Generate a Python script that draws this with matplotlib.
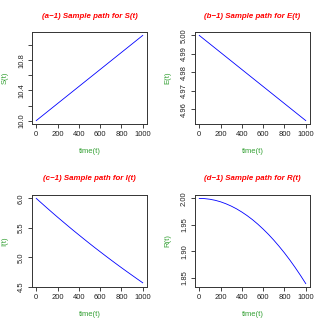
import matplotlib
matplotlib.use("Agg")
import matplotlib.pyplot as plt

plt.rcParams['font.family'] = ['Liberation Sans', 'DejaVu Sans']

# ---- data ----
time = [0, 50, 100, 150, 200, 250, 300, 350, 400, 450, 500,
        550, 600, 650, 700, 750, 800, 850, 900, 950, 1000]
S_vals = [10.0, 10.0565, 10.113, 10.1695, 10.226, 10.2825, 10.339, 10.3955, 10.452, 10.5085, 10.565,
          10.6215, 10.678, 10.7345, 10.791, 10.8475, 10.904, 10.9605, 11.017, 11.0735, 11.13]
E_vals = [5.000, 4.9977, 4.9954, 4.9931, 4.9908, 4.9885, 4.9862, 4.9839, 4.9816, 4.9793, 4.9770,
          4.9747, 4.9724, 4.9701, 4.9678, 4.9655, 4.9632, 4.9609, 4.9586, 4.9563, 4.9540]
I_vals = [6.000, 5.919, 5.839, 5.760, 5.682, 5.606, 5.530, 5.455, 5.382, 5.309, 5.237,
          5.166, 5.097, 5.028, 4.960, 4.893, 4.827, 4.762, 4.698, 4.634, 4.571]
R_vals = [2.000, 1.9996, 1.9984, 1.9964, 1.9936, 1.9899, 1.9855, 1.9803, 1.9742, 1.9674, 1.9598,
          1.9513, 1.9420, 1.9320, 1.9211, 1.9094, 1.8970, 1.8837, 1.8696, 1.8547, 1.8390]

x_ticks = [0, 200, 400, 600, 800, 1000]
S_ticks = [10.0, 10.2, 10.4, 10.6, 10.8, 11.0]
S_ticklabels = ["10.0", "", "10.4", "", "10.8", ""]
E_ticks = [4.96, 4.97, 4.98, 4.99, 5.00]
E_ticklabels = ["4.96", "4.97", "4.98", "4.99", "5.00"]
I_ticks = [4.5, 5.0, 5.5, 6.0]
I_ticklabels = ["4.5", "5.0", "5.5", "6.0"]
R_ticks = [1.85, 1.90, 1.95, 2.00]
R_ticklabels = ["1.85", "1.90", "1.95", "2.00"]

titles = ["(a\u22121) Sample path for S(t)", "(b\u22121) Sample path for E(t)",
          "(c\u22121) Sample path for I(t)", "(d\u22121) Sample path for R(t)"]
ylabels = ["S(t)", "E(t)", "I(t)", "R(t)"]
xlabel = "time(t)"

series = [S_vals, E_vals, I_vals, R_vals]
yticks = [S_ticks, E_ticks, I_ticks, R_ticks]
yticklabels = [S_ticklabels, E_ticklabels, I_ticklabels, R_ticklabels]

W = H = 327
fig = plt.figure(figsize=(W / 100, H / 100), dpi=100)

# axes boxes in pixels: (left, top, right, bottom)
boxes = [(32, 32, 147, 124), (195, 32, 310, 124),
         (32, 195, 147, 287), (195, 195, 310, 287)]

green = '#33a033'
fs = 5.5

def pad_lim(vals):
    lo, hi = min(vals), max(vals)
    d = (hi - lo) * 0.04
    return lo - d, hi + d

for i in range(4):
    l, t, r, b = boxes[i]
    ax = fig.add_axes([l / W, 1 - b / H, (r - l) / W, (b - t) / H])
    ax.plot(time, series[i], color='#0000ff', lw=0.6)
    ax.set_xlim(*pad_lim(time))
    ax.set_ylim(*pad_lim(series[i]))
    ax.set_xticks(x_ticks)
    ax.set_xticklabels([str(v) for v in x_ticks])
    ax.set_yticks(yticks[i])
    ax.set_yticklabels(yticklabels[i], rotation=90, va='center')
    ax.tick_params(axis='both', direction='out', length=3, width=0.6,
                   labelsize=fs, colors='#222222', pad=2)
    for sp in ax.spines.values():
        sp.set_linewidth(0.7)
        sp.set_color('#333333')
    cx = (l + r) / 2
    fig.text(cx / W, 1 - (t - 16) / H, titles[i], color='#ff0000',
             fontsize=5.7, fontweight='bold', fontstyle='italic',
             ha='center', va='center')
    fig.text(cx / W, 1 - (b + 28) / H, xlabel, color=green, fontsize=fs,
             ha='center', va='center')
    fig.text((l - 27) / W, 1 - ((t + b) / 2) / H, ylabels[i], color=green,
             fontsize=fs, rotation=90, ha='center', va='center')

fig.savefig("out.png", dpi=100)
